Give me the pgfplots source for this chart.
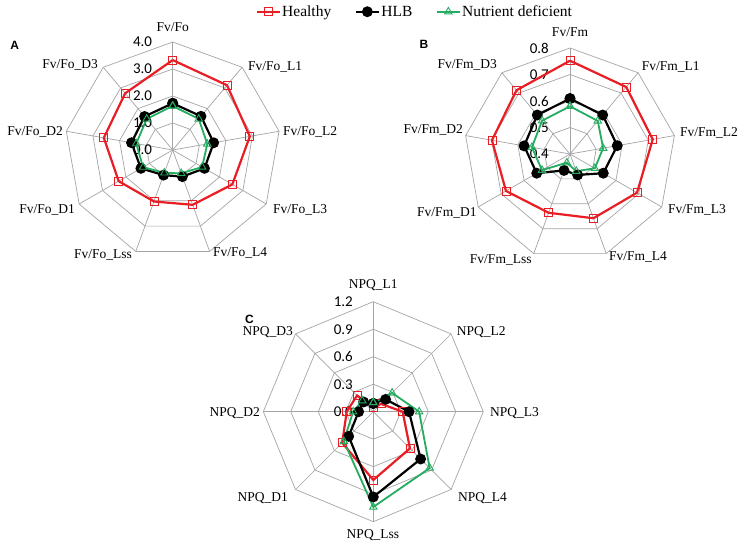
\documentclass[border=0pt]{standalone}
\usepackage{pgfplots}
\pgfplotsset{compat=1.18}
\usepackage{pgfplotstable}
\usepackage{fontspec}
\setmainfont{Liberation Serif}
\newfontfamily\calibfont{Carlito}
\newfontfamily\arialfont{Liberation Sans}
\definecolor{cred}{RGB}{232,30,36}
\definecolor{cgreen}{RGB}{36,172,96}
\definecolor{cgrid}{RGB}{165,165,165}

% angle (deg, counter-clockwise from east), Healthy, HLB, Nutrient deficient
\pgfplotstableread{
a h b n
90 3.33 1.73 1.63
50 3.13 1.63 1.50
10 2.90 1.54 1.30
-30 2.55 1.36 1.26
-70 2.16 1.05 0.92
-110 2.03 0.99 0.90
-150 2.31 1.36 1.27
170 2.59 1.55 1.37
130 2.74 1.62 1.50
90 3.33 1.73 1.63
}\dataA

\pgfplotstableread{
a h b n
90 0.752 0.609 0.580
50 0.730 0.592 0.563
10 0.717 0.581 0.527
-30 0.692 0.545 0.508
-70 0.658 0.484 0.469
-110 0.636 0.466 0.435
-150 0.679 0.545 0.522
170 0.699 0.576 0.546
130 0.714 0.592 0.564
90 0.752 0.609 0.580
}\dataB

\pgfplotstableread{
a h b n
90 0.047 0.09 0.10
45 0.12 0.19 0.29
0 0.32 0.39 0.50
-45 0.566 0.73 0.87
-90 0.745 0.93 1.04
-135 0.48 0.38 0.455
180 0.29 0.16 0.22
135 0.25 0.15 0.17
90 0.047 0.09 0.10
}\dataC

\pgfplotsset{
  radar/.style={hide axis, clip=false, disabledatascaling, anchor=origin},
  hstyle/.style={cred, line width=2.2bp, mark=square, mark size=4bp, mark options={solid, line width=0.9bp}},
  bstyle/.style={black, line width=2.2bp, mark=*, mark size=4.3bp, mark options={solid, fill=black}},
  nstyle/.style={cgreen, line width=1.8bp, mark=triangle, mark size=4.3bp, mark options={solid, line width=0.9bp}},
}

\newcommand{\nonagon}[1]{(90:#1) -- (50:#1) -- (10:#1) -- (-30:#1) -- (-70:#1) -- (-110:#1) -- (-150:#1) -- (170:#1) -- (130:#1) -- cycle}
\newcommand{\octagon}[1]{(90:#1) -- (45:#1) -- (0:#1) -- (-45:#1) -- (-90:#1) -- (-135:#1) -- (180:#1) -- (135:#1) -- cycle}

\begin{document}
\begin{tikzpicture}
\useasboundingbox (0,0) rectangle (751bp,558bp);
\fill[white] (0,0) rectangle (751bp,558bp);

% ---------- grids ----------
\begin{scope}[shift={(172.7bp,408bp)}, cgrid, line width=0.7bp]
  \foreach \r in {27,54,81,108} \draw \nonagon{\r bp};
  \foreach \t in {90,50,10,-30,-70,-110,-150,170,130} \draw (0,0) -- (\t:108bp);
\end{scope}
\begin{scope}[shift={(570bp,404bp)}, cgrid, line width=0.7bp]
  \foreach \r in {26.5,53,79.5,106} \draw \nonagon{\r bp};
  \foreach \t in {90,50,10,-30,-70,-110,-150,170,130} \draw (0,0) -- (\t:106bp);
\end{scope}
\begin{scope}[shift={(373.3bp,146.3bp)}, cgrid, line width=0.7bp]
  \foreach \r in {27.5,55,82.5,110} \draw \octagon{\r bp};
  \foreach \t in {90,45,0,-45,-90,-135,180,135} \draw (0,0) -- (\t:110bp);
\end{scope}

% ---------- category labels ----------
\begin{scope}[every node/.style={inner sep=0pt, font=\fontsize{13.5bp}{15bp}\selectfont}]
  \node[anchor=center] at (172.7bp,531.3bp) {Fv/Fo};
  \node[anchor=west] at (248bp,491bp) {Fv/Fo\_L1};
  \node[anchor=west] at (283bp,426bp) {Fv/Fo\_L2};
  \node[anchor=west] at (273bp,348bp) {Fv/Fo\_L3};
  \node[anchor=west] at (213bp,305bp) {Fv/Fo\_L4};
  \node[anchor=east] at (132bp,303bp) {Fv/Fo\_Lss};
  \node[anchor=east] at (75bp,348bp) {Fv/Fo\_D1};
  \node[anchor=east] at (63bp,426bp) {Fv/Fo\_D2};
  \node[anchor=east] at (98bp,493bp) {Fv/Fo\_D3};

  \node[anchor=center] at (570bp,526.3bp) {Fv/Fm};
  \node[anchor=west] at (641.7bp,491.3bp) {Fv/Fm\_L1};
  \node[anchor=west] at (680bp,425bp) {Fv/Fm\_L2};
  \node[anchor=west] at (668bp,348bp) {Fv/Fm\_L3};
  \node[anchor=west] at (609bp,301bp) {Fv/Fm\_L4};
  \node[anchor=east] at (531.7bp,298bp) {Fv/Fm\_Lss};
  \node[anchor=east] at (476.7bp,345bp) {Fv/Fm\_D1};
  \node[anchor=east] at (463bp,428bp) {Fv/Fm\_D2};
  \node[anchor=east] at (497bp,493bp) {Fv/Fm\_D3};

  \node[anchor=center] at (373.3bp,273bp) {NPQ\_L1};
  \node[anchor=west] at (456.7bp,226.3bp) {NPQ\_L2};
  \node[anchor=west] at (490bp,145.3bp) {NPQ\_L3};
  \node[anchor=west] at (458bp,60bp) {NPQ\_L4};
  \node[anchor=center] at (373bp,23bp) {NPQ\_Lss};
  \node[anchor=east] at (288bp,60bp) {NPQ\_D1};
  \node[anchor=east] at (260bp,145bp) {NPQ\_D2};
  \node[anchor=east] at (293bp,225.5bp) {NPQ\_D3};
\end{scope}

% ---------- radial tick labels ----------
\begin{scope}[every node/.style={inner sep=0pt, anchor=east, font=\calibfont\fontsize{15bp}{16bp}\selectfont}]
  \node at (152.2bp,408bp) {0.0};
  \node at (152.2bp,435bp) {1.0};
  \node at (152.2bp,462bp) {2.0};
  \node at (152.2bp,489bp) {3.0};
  \node at (152.2bp,516bp) {4.0};
  \node at (549bp,404bp) {0.4};
  \node at (549bp,430.5bp) {0.5};
  \node at (549bp,457bp) {0.6};
  \node at (549bp,483.5bp) {0.7};
  \node at (549bp,510bp) {0.8};
  \node at (353bp,146.3bp) {0.0};
  \node at (353bp,173.8bp) {0.3};
  \node at (353bp,201.3bp) {0.6};
  \node at (353bp,228.8bp) {0.9};
  \node at (353bp,256.3bp) {1.2};
\end{scope}

% ---------- panel letters ----------
\begin{scope}[every node/.style={inner sep=0pt, font=\arialfont\bfseries\fontsize{12bp}{13bp}\selectfont}]
  \node at (14.7bp,512.5bp) {A};
  \node at (424bp,513.5bp) {B};
  \node at (249.5bp,239bp) {C};
\end{scope}

% ---------- chart A ----------
\begin{axis}[radar, at={(172.7bp,408bp)}, x=27bp, y=27bp,
  xmin=-4.5, xmax=4.5, ymin=-4.5, ymax=4.5,
  legend columns=3,
  legend style={at={(1.495,1.069)}, anchor=center, draw=none, fill=none,
    font=\fontsize{15.5bp}{17bp}\selectfont, inner sep=0pt,
    nodes={inner sep=1.5bp},
    /tikz/every even column/.append style={column sep=22bp}},
  legend image code/.code={\draw[mark repeat=2, mark phase=2, #1] plot coordinates {(0bp,0bp) (11.5bp,0bp) (23bp,0bp)};}
]
\addplot[hstyle] table[x expr={\thisrow{h}*cos(\thisrow{a})}, y expr={\thisrow{h}*sin(\thisrow{a})}] {\dataA};
\addplot[bstyle] table[x expr={\thisrow{b}*cos(\thisrow{a})}, y expr={\thisrow{b}*sin(\thisrow{a})}] {\dataA};
\addplot[nstyle] table[x expr={\thisrow{n}*cos(\thisrow{a})}, y expr={\thisrow{n}*sin(\thisrow{a})}] {\dataA};
\legend{Healthy, HLB, Nutrient deficient}
\end{axis}

% ---------- chart B (centre = 0.4) ----------
\begin{axis}[radar, at={(570bp,404bp)}, x=265bp, y=265bp,
  xmin=-0.45, xmax=0.45, ymin=-0.45, ymax=0.45]
\addplot[hstyle] table[x expr={(\thisrow{h}-0.4)*cos(\thisrow{a})}, y expr={(\thisrow{h}-0.4)*sin(\thisrow{a})}] {\dataB};
\addplot[bstyle] table[x expr={(\thisrow{b}-0.4)*cos(\thisrow{a})}, y expr={(\thisrow{b}-0.4)*sin(\thisrow{a})}] {\dataB};
\addplot[nstyle] table[x expr={(\thisrow{n}-0.4)*cos(\thisrow{a})}, y expr={(\thisrow{n}-0.4)*sin(\thisrow{a})}] {\dataB};
\end{axis}

% ---------- chart C ----------
\begin{axis}[radar, at={(373.3bp,146.3bp)}, x=91.667bp, y=91.667bp,
  xmin=-1.3, xmax=1.3, ymin=-1.3, ymax=1.3]
\addplot[hstyle] table[x expr={\thisrow{h}*cos(\thisrow{a})}, y expr={\thisrow{h}*sin(\thisrow{a})}] {\dataC};
\addplot[bstyle] table[x expr={\thisrow{b}*cos(\thisrow{a})}, y expr={\thisrow{b}*sin(\thisrow{a})}] {\dataC};
\addplot[nstyle] table[x expr={\thisrow{n}*cos(\thisrow{a})}, y expr={\thisrow{n}*sin(\thisrow{a})}] {\dataC};
\end{axis}
\end{tikzpicture}
\end{document}
